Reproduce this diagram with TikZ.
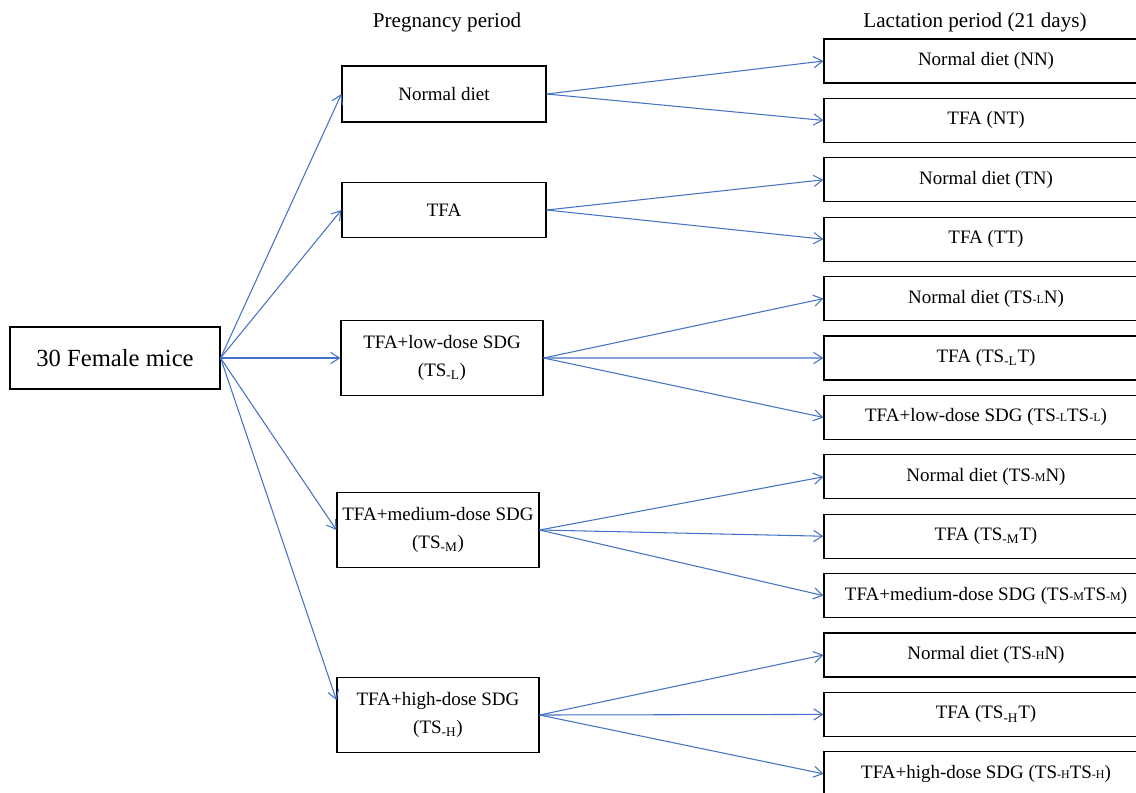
\documentclass[tikz,border=0pt]{standalone}
\usepackage{fontspec}
\setmainfont{Liberation Serif}
\usetikzlibrary{arrows.meta,math}

\definecolor{flowblue}{HTML}{4472C4}
\newcommand{\lowsub}[1]{\textsubscript{#1}}
\newcommand{\tagsub}[1]{{\fontsize{8.5}{9}\selectfont #1}}

\tikzset{
  box/.style={draw, line width=0.8pt, inner sep=0pt, align=center,
    font=\fontsize{13.5}{20}\selectfont},
  pregbox/.style={box, minimum width=5.05cm, minimum height=1.88cm},
  lactbox/.style={box, minimum width=8.1cm, minimum height=1.1cm},
  flow/.style={draw=flowblue, line width=0.75pt,
    -{Straight Barb[length=2.2mm,width=2.8mm]}}
}

\begin{document}
\begin{tikzpicture}[x=0.025cm,y=-0.025cm]
  \useasboundingbox (0,0) rectangle (1136,792);

  \tikzmath{
    real \lactx, \gap;
    \lactx = 986;
    \gap = 59.4;
  }

  % titles
  \node[font=\fontsize{15}{18}\selectfont] (pregtitle) at (447,22) {Pregnancy period};
  \node[font=\fontsize{15}{18}\selectfont] (lacttitle) at (975,22) {Lactation period (21 days)};

  % start
  \node[box, minimum width=5.25cm, minimum height=1.55cm,
    font=\fontsize{17.5}{20}\selectfont] (mice) at (115,358) {30 Female mice};

  % pregnancy period
  \node[box, minimum width=5.1cm, minimum height=1.4cm] (normal) at (444,94) {Normal diet};
  \node[box, minimum width=5.1cm, minimum height=1.38cm] (tfa) at (444,210) {TFA};
  \node[pregbox] (low) at (442,358) {TFA+low-dose SDG\\(TS\lowsub{-L})};
  \node[pregbox] (medium) at (438,530) {TFA+medium-dose SDG\\(TS\lowsub{-M})};
  \node[pregbox] (high) at (438,715) {TFA+high-dose SDG\\(TS\lowsub{-H})};

  % lactation period
  \foreach \name/\txt [count=\k from 0] in {
      nn/{Normal diet (NN)},
      nt/{TFA (NT)},
      tn/{Normal diet (TN)},
      tt/{TFA (TT)},
      ln/{Normal diet (TS\tagsub{-L}N)},
      lt/{TFA (TS\lowsub{-L}T)},
      ll/{TFA+low-dose SDG (TS\tagsub{-L}TS\tagsub{-L})},
      mn/{Normal diet (TS\tagsub{-M}N)},
      mt/{TFA (TS\lowsub{-M}T)},
      mm/{TFA+medium-dose SDG (TS\tagsub{-M}TS\tagsub{-M})},
      hn/{Normal diet (TS\tagsub{-H}N)},
      ht/{TFA (TS\lowsub{-H}T)},
      hh/{TFA+high-dose SDG (TS\tagsub{-H}TS\tagsub{-H})}} {
    \node[lactbox] (\name) at (\lactx,61+\k*\gap) {\txt};
  }

  % connectors
  \foreach \p in {normal,tfa,low,medium}
    \draw[flow] (mice.east) -- (\p.west);
  \draw[flow] (mice.east) -- ([yshift=0.375cm]high.west);

  \draw[flow] (normal.east) -- (nn.west);
  \draw[flow] (normal.east) -- (nt.west);
  \draw[flow] (tfa.east) -- (tn.west);
  \draw[flow] (tfa.east) -- (tt.west);
  \foreach \p/\q in {low/l,medium/m,high/h}
    \foreach \r in {n,t,\q}
      \draw[flow] (\p.east) -- (\q\r.west);
\end{tikzpicture}
\end{document}
